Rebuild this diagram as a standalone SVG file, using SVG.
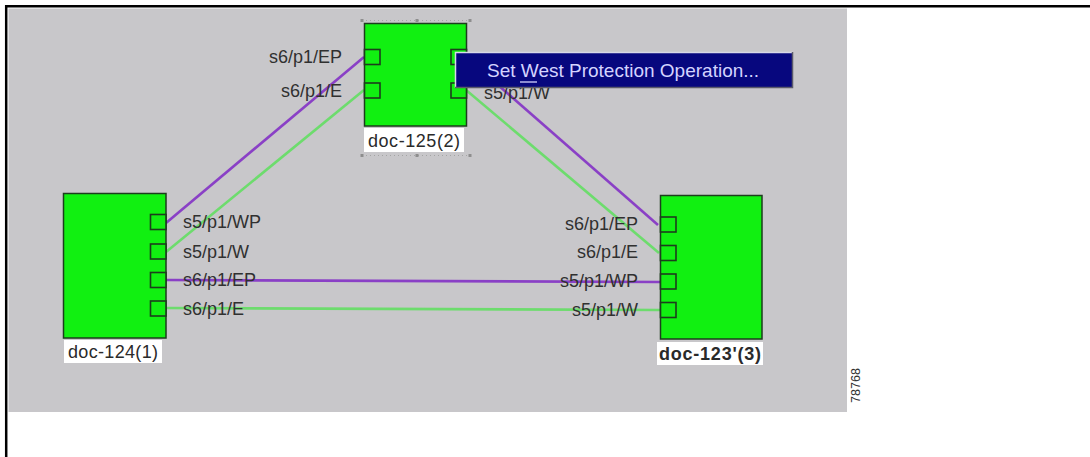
<svg xmlns="http://www.w3.org/2000/svg" width="1090" height="457" viewBox="0 0 1090 457">
  <style>
    .node { fill: #11f011; stroke: #1d3d1d; stroke-width: 1.5; }
    .port { fill: #11f011; stroke: #1d3d1d; stroke-width: 1.6; }
    .plbl { font-family: "Liberation Sans", Arial, sans-serif; font-size: 18px; fill: #303030; }
    .nbox { fill: #ffffff; }
    .ntxt { font-family: "Liberation Sans", Arial, sans-serif; font-size: 18px; fill: #2a2a2a; text-anchor: middle; }
    .purple { stroke: #8a40c6; stroke-width: 2.6; fill: none; }
    .green { stroke: #6ddc6d; stroke-width: 2.6; fill: none; }
    .handle { fill: #8e8e8e; }
  </style>
  <rect x="0" y="0" width="1090" height="457" fill="#ffffff"/>
  <!-- frame -->
  <path d="M6.2 457 V6.2 H1090" fill="none" stroke="#000000" stroke-width="2.5"/>
  <!-- canvas -->
  <rect x="8.5" y="8.5" width="838.5" height="403.5" fill="#c8c7ca"/>

  <g id="connectors">
    <line class="purple" x1="166" y1="223" x2="364" y2="57"/>
    <line class="green" x1="166" y1="252" x2="364" y2="90"/>
    <line class="purple" x1="466" y1="57" x2="658" y2="225"/>
    <line class="green" x1="466" y1="90" x2="659" y2="253"/>
    <line class="purple" x1="166" y1="280" x2="660" y2="282"/>
    <line class="green" x1="166" y1="308" x2="660" y2="310"/>
  </g>

  <g id="doc-125">
    <path d="M362 155.5 H470" stroke="#9a9a9a" stroke-width="0.8" stroke-dasharray="1 3" fill="none"/>
    <path d="M362 20.5 H470" stroke="#9a9a9a" stroke-width="0.8" stroke-dasharray="1 3" fill="none"/>
    <rect class="handle" x="360.5" y="19" width="3" height="3"/>
    <rect class="handle" x="415.5" y="19" width="3" height="3"/>
    <rect class="handle" x="468.5" y="19" width="3" height="3"/>
    <rect class="handle" x="360.5" y="154" width="3" height="3"/>
    <rect class="handle" x="415.5" y="154" width="3" height="3"/>
    <rect class="handle" x="468.5" y="154" width="3" height="3"/>
    <rect class="node" x="364.5" y="23.5" width="102" height="102.5"/>
    <rect class="port" x="364.5" y="49.5" width="15.5" height="15"/>
    <rect class="port" x="364.5" y="83" width="15.5" height="15"/>
    <rect class="port" x="451" y="49.5" width="15.5" height="15"/>
    <rect class="port" x="451" y="83" width="15.5" height="15"/>
    <text class="plbl" x="342" y="63" text-anchor="end">s6/p1/EP</text>
    <text class="plbl" x="342" y="97" text-anchor="end">s6/p1/E</text>
    <text class="plbl" x="484" y="99">s5/p1/W</text>
    <rect class="nbox" x="364" y="128" width="100" height="24"/>
    <text class="ntxt" x="414" y="147" textLength="92" lengthAdjust="spacing">doc-125(2)</text>
  </g>

  <g id="doc-124">
    <rect class="node" x="63.5" y="193.5" width="102.5" height="144.5"/>
    <rect class="port" x="150.5" y="214.5" width="15.5" height="15"/>
    <rect class="port" x="150.5" y="244" width="15.5" height="15"/>
    <rect class="port" x="150.5" y="272.5" width="15.5" height="15"/>
    <rect class="port" x="150.5" y="301" width="15.5" height="15"/>
    <text class="plbl" x="183" y="228">s5/p1/WP</text>
    <text class="plbl" x="183" y="258">s5/p1/W</text>
    <text class="plbl" x="183" y="286">s6/p1/EP</text>
    <text class="plbl" x="183" y="315">s6/p1/E</text>
    <rect class="nbox" x="64" y="340" width="98" height="23"/>
    <text class="ntxt" x="113" y="358" textLength="90" lengthAdjust="spacing">doc-124(1)</text>
  </g>

  <g id="doc-123">
    <rect class="node" x="660.5" y="195.5" width="101.5" height="143.5"/>
    <rect class="port" x="660.5" y="217" width="15.5" height="15"/>
    <rect class="port" x="660.5" y="245.5" width="15.5" height="15"/>
    <rect class="port" x="660.5" y="274" width="15.5" height="15"/>
    <rect class="port" x="660.5" y="302.5" width="15.5" height="15"/>
    <text class="plbl" x="638" y="230" text-anchor="end">s6/p1/EP</text>
    <text class="plbl" x="638" y="258" text-anchor="end">s6/p1/E</text>
    <text class="plbl" x="638" y="287" text-anchor="end">s5/p1/WP</text>
    <text class="plbl" x="638" y="316" text-anchor="end">s5/p1/W</text>
    <rect class="nbox" x="657" y="342" width="106" height="23"/>
    <text class="ntxt" x="710" y="360" font-weight="bold" fill="#1a1a1a" textLength="102" lengthAdjust="spacing">doc-123'(3)</text>
  </g>

  <g id="context-menu">
    <rect x="455" y="52" width="338" height="36" fill="#07077e"/>
    <path d="M455.5 88 V52.5 H793" stroke="#d8d8e8" stroke-width="1.5" fill="none"/>
    <path d="M455 87.5 H792.5 V52" stroke="#5a5a6a" stroke-width="1.5" fill="none"/>
    <text x="487" y="77" font-family="Liberation Sans, Arial, sans-serif" font-size="19px" fill="#d4d4ff">Set West Protection Operation...</text>
    <line x1="520" y1="82" x2="537" y2="82" stroke="#d4d4ff" stroke-width="1.3"/>
  </g>

  <text x="0" y="0" transform="translate(851 403) rotate(-90)" font-family="Liberation Sans, Arial, sans-serif" font-size="12.5px" fill="#333333" dy="9" textLength="35" lengthAdjust="spacing">78768</text>
</svg>
